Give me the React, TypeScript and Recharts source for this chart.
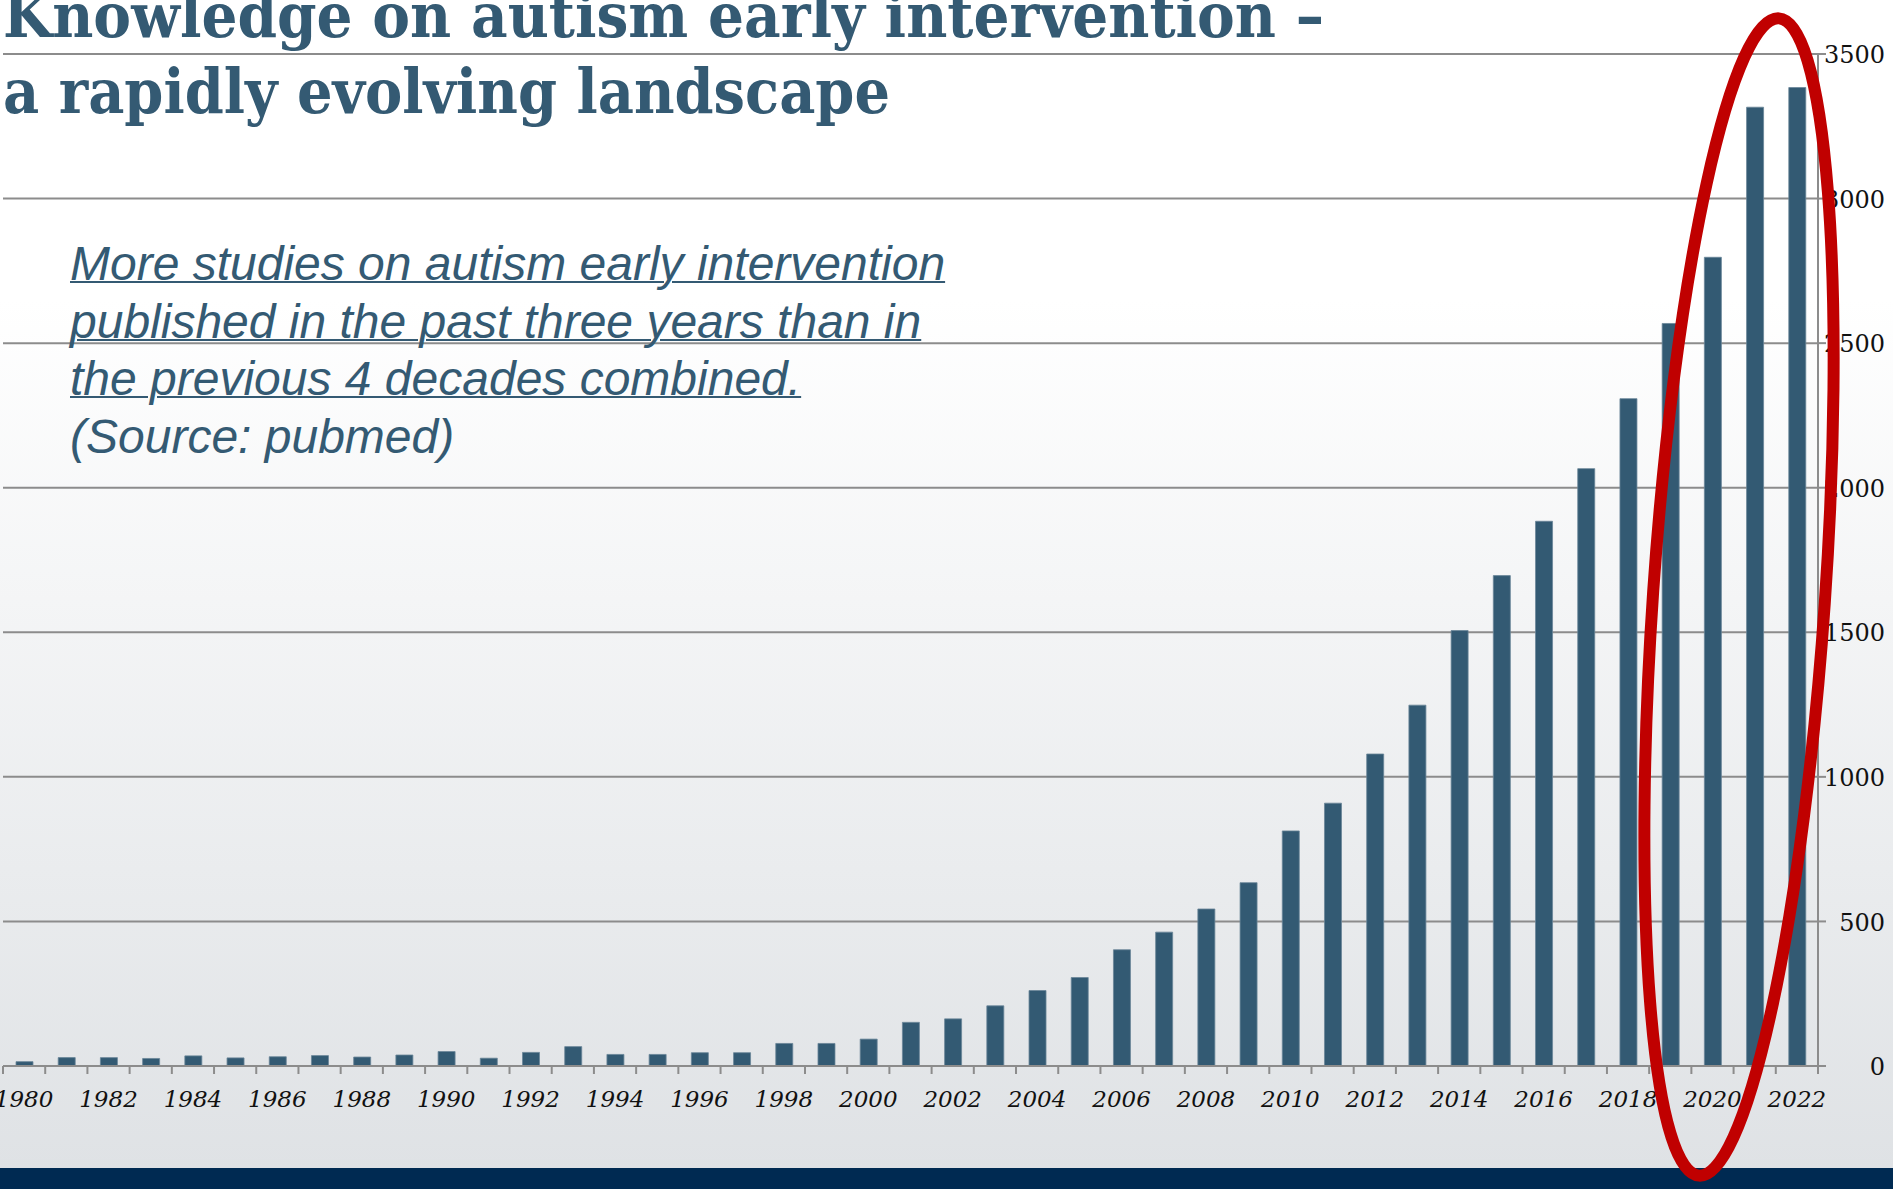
import React from 'react';
import { BarChart, Bar, XAxis, YAxis, CartesianGrid } from 'recharts';

// PubMed hits for "autism early intervention", per publication year
const YEARS = [
  '1980', '1981', '1982', '1983', '1984', '1985', '1986', '1987', '1988', '1989',
  '1990', '1991', '1992', '1993', '1994', '1995', '1996', '1997', '1998', '1999',
  '2000', '2001', '2002', '2003', '2004', '2005', '2006', '2007', '2008', '2009',
  '2010', '2011', '2012', '2013', '2014', '2015', '2016', '2017', '2018', '2019',
  '2020', '2021', '2022',
];
const PUBLICATIONS = [
  15, 29, 29, 26, 35, 28, 32, 36, 31, 38,
  50, 27, 47, 67, 40, 40, 46, 46, 78, 78,
  93, 151, 163, 208, 261, 306, 402, 463, 543, 634,
  813, 909, 1079, 1248, 1506, 1696, 1884, 2066, 2308, 2568,
  2797, 3316, 3384,
];
const Y_TICKS = [0, 500, 1000, 1500, 2000, 2500, 3000, 3500];

const TITLE_LINES = ['Knowledge on autism early intervention –', 'a rapidly evolving landscape'];
const NOTE_LINES = [
  'More studies on autism early intervention',
  'published in the past three years than in',
  'the previous 4 decades combined.',
];
const NOTE_SOURCE = '(Source: pubmed)';

const data = YEARS.map((year, i) => ({ year, count: PUBLICATIONS[i] }));

const W = 1893;
const H = 1189;
const MARGIN = { top: 54, right: 0, bottom: 0, left: 3 };
const Y_AXIS_W = 75;
const X_AXIS_H = 123;
const BAND = (W - MARGIN.left - MARGIN.right - Y_AXIS_W) / YEARS.length;

const AXIS_GRAY = '#8c8c8c';
const BAR_BLUE = '#335a73';
const TEXT_BLUE = '#345a73';
const NAVY = '#002a52';
const RED = '#c00000';

function YearTick(props: any) {
  const { x, y, index, payload } = props;
  const left = x - BAND / 2;
  const isLast = index === YEARS.length - 1;
  return (
    <g>
      <line x1={left} x2={left} y1={y} y2={y + 8} stroke={AXIS_GRAY} strokeWidth={2} />
      {isLast && (
        <line x1={x + BAND / 2} x2={x + BAND / 2} y1={y} y2={y + 8} stroke={AXIS_GRAY} strokeWidth={2} />
      )}
      {index % 2 === 0 && (
        <text
          x={x}
          y={y + 41}
          textAnchor="middle"
          fontFamily="'DejaVu Serif', serif"
          fontStyle="italic"
          fontSize={23}
          fill="#111111"
        >
          {payload.value}
        </text>
      )}
    </g>
  );
}

function CountTick(props: any) {
  const { y, payload } = props;
  return (
    <text
      x={W - 8}
      y={y}
      dy="0.38em"
      textAnchor="end"
      fontFamily="'DejaVu Serif', serif"
      fontSize={24}
      fill="#111111"
    >
      {payload.value}
    </text>
  );
}

export default function App() {
  return (
    <div
      style={{
        position: 'absolute',
        left: 0,
        top: 0,
        width: W,
        height: H,
        overflow: 'hidden',
        background: 'linear-gradient(to bottom, #ffffff 0px, #ffffff 300px, #dfe2e5 1168px)',
      }}
    >
      <div style={{ position: 'absolute', left: 0, top: 0 }}>
        <BarChart width={W} height={H} data={data} margin={MARGIN}>
          <CartesianGrid vertical={false} stroke={AXIS_GRAY} strokeWidth={2} />
          <XAxis
            dataKey="year"
            height={X_AXIS_H}
            interval={0}
            tickSize={0}
            tickMargin={0}
            tickLine={false}
            axisLine={{ stroke: AXIS_GRAY, strokeWidth: 2 }}
            tick={<YearTick />}
          />
          <YAxis
            orientation="right"
            width={Y_AXIS_W}
            domain={[0, 3500]}
            ticks={Y_TICKS}
            interval={0}
            tickSize={8}
            tickMargin={2}
            tickLine={{ stroke: AXIS_GRAY, strokeWidth: 2 }}
            axisLine={{ stroke: AXIS_GRAY, strokeWidth: 2 }}
            tick={<CountTick />}
          />
          <Bar
            dataKey="count"
            fill={BAR_BLUE}
            stroke="#6a8598"
            strokeWidth={0.8}
            barSize={17}
            isAnimationActive={false}
          />
        </BarChart>
      </div>

      {/* Title */}
      <svg style={{ position: 'absolute', left: 0, top: 0 }} width={W} height={140}>
        <text
          x={3}
          y={37}
          fontFamily="'DejaVu Serif', serif"
          fontWeight="bold"
          fontSize={62}
          fill={TEXT_BLUE}
          textLength={1321}
          lengthAdjust="spacingAndGlyphs"
        >
          {TITLE_LINES[0]}
        </text>
        <text
          x={3}
          y={113}
          fontFamily="'DejaVu Serif', serif"
          fontWeight="bold"
          fontSize={62}
          fill={TEXT_BLUE}
          textLength={887}
          lengthAdjust="spacingAndGlyphs"
        >
          {TITLE_LINES[1]}
        </text>
      </svg>

      {/* Note */}
      <div
        style={{
          position: 'absolute',
          left: 70,
          top: 235,
          fontFamily: "'Liberation Sans', Arial, sans-serif",
          fontStyle: 'italic',
          fontSize: 48,
          lineHeight: '57.6px',
          color: TEXT_BLUE,
          whiteSpace: 'nowrap',
        }}
      >
        {NOTE_LINES.map((line) => (
          <div key={line} style={{ textDecoration: 'underline', textDecorationThickness: 2 }}>
            {line}
          </div>
        ))}
        <div>{NOTE_SOURCE}</div>
      </div>

      {/* Footer band */}
      <div style={{ position: 'absolute', left: 0, top: 1168, width: W, height: H - 1168, background: NAVY }} />

      {/* Highlight around the last three years */}
      <svg style={{ position: 'absolute', left: 0, top: 0, pointerEvents: 'none' }} width={W} height={H}>
        <ellipse
          cx={1739}
          cy={597}
          rx={86}
          ry={580}
          transform="rotate(3.95 1739 597)"
          fill="none"
          stroke={RED}
          strokeWidth={12}
        />
      </svg>
    </div>
  );
}
